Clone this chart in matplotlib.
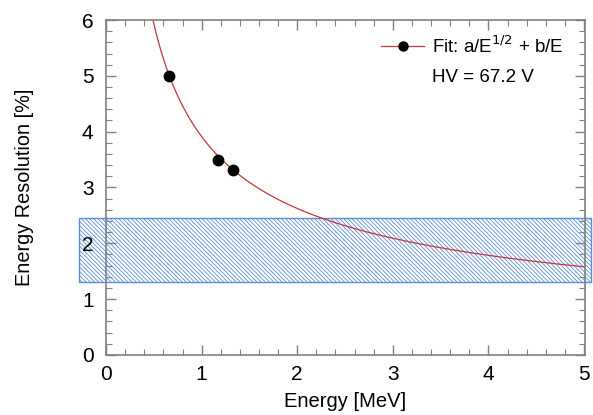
import numpy as np
import matplotlib.pyplot as plt
from matplotlib.lines import Line2D
from matplotlib.patches import Rectangle

# measured points (Cs-137, Co-60 lines)
energia = [0.662, 1.173, 1.332]
rozdzielczosc = [5.0, 3.49, 3.32]
bledy = [0.07, 0.05, 0.04]

# fit a/E^1/2 + b/E
fit_a = 3.227
fit_b = 0.685

# shaded band
pasmo_x = [-0.28, 5.07]
pasmo_y = [1.30, 2.46]

plt.rcParams['font.family'] = ['Liberation Sans', 'DejaVu Sans']
plt.rcParams['hatch.color'] = '#8fb0dc'
plt.rcParams['hatch.linewidth'] = 0.6

fig = plt.figure(figsize=(5.93, 4.15), dpi=100)
ax = fig.add_axes([0.1788, 0.1446, 0.8077, 0.8072])

rect = Rectangle((pasmo_x[0], pasmo_y[0]), pasmo_x[1] - pasmo_x[0], pasmo_y[1] - pasmo_y[0],
                 facecolor='none', edgecolor='#5b8fd4', linewidth=1.0, hatch='\\' * 8,
                 clip_on=False, zorder=1)
ax.add_patch(rect)

E = np.linspace(0.35, 5.0, 400)
ax.plot(E, fit_a / np.sqrt(E) + fit_b / E, color='#c0393b', linewidth=0.9, zorder=2)
ax.errorbar(energia, rozdzielczosc, yerr=bledy, fmt='o', color='black', markersize=7.5,
            elinewidth=1.0, capsize=0, zorder=3)

ax.set_xlim(0, 5.01)
ax.set_ylim(0, 6)
ax.set_xticks(np.arange(0, 6, 1))
ax.set_yticks(np.arange(0, 7, 1))
ax.set_xticks(np.arange(0, 5.01, 0.2), minor=True)
ax.set_yticks(np.arange(0, 6.01, 0.2), minor=True)
ax.tick_params(which='both', direction='in', top=True, right=True, color='#808080')
ax.tick_params(which='major', length=7, width=1.0, labelsize=15)
ax.tick_params(axis='y', which='major', pad=9)
ax.tick_params(axis='x', which='major', pad=7)
ax.tick_params(which='minor', length=4, width=0.8)
for s in ax.spines.values():
    s.set_color('#808080')
    s.set_linewidth(1.2)

ax.set_xlabel('Energy [MeV]', fontsize=14.5)
ax.set_ylabel('Energy Resolution [%]', fontsize=14.3)
ax.xaxis.set_label_coords(0.5, -0.11)
ax.yaxis.set_label_coords(-0.15, 0.5)

uchwyty = [Line2D([], [], color='#c0393b', linewidth=0.9, marker='o', markersize=6.5,
                  markerfacecolor='black', markeredgecolor='black'),
           Line2D([], [], alpha=0)]
ax.legend(uchwyty, ['Fit: a/E$^{1/2}$ + b/E', 'HV = 67.2 V'], loc='upper right',
          frameon=False, fontsize=13.5, handlelength=2.3, handletextpad=0.4,
          labelspacing=0.65, bbox_to_anchor=(0.99, 1.005))

plt.savefig('out.png', dpi=100)
